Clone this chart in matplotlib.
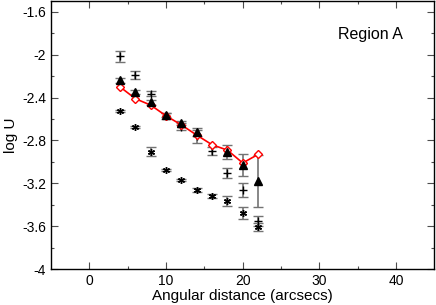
import numpy as np
import matplotlib
matplotlib.use('Agg')
import matplotlib.pyplot as plt

plt.rcParams['font.family'] = ['Liberation Sans', 'DejaVu Sans']

# triangles (filled) with error bars
x_tri = [4, 6, 8, 10, 12, 14, 18, 20, 22]
y_tri = [-2.24, -2.35, -2.445, -2.56, -2.64, -2.72, -2.91, -3.03, -3.18]
e_tri = [0.02, 0.02, 0.02, 0.02, 0.02, 0.04, 0.067, 0.10, 0.245]

# open red diamonds joined by line
x_dia = [4, 6, 8, 10, 12, 14, 16, 18, 20, 22]
y_dia = [-2.30, -2.41, -2.47, -2.57, -2.655, -2.75, -2.84, -2.89, -3.01, -2.93]

# plus markers with error bars
x_plus = [4, 6, 8, 10, 12, 14, 16, 18, 20, 22]
y_plus = [-2.016, -2.186, -2.363, -2.57, -2.67, -2.76, -2.90, -3.104, -3.265, -3.551]
e_plus = [0.05, 0.037, 0.025, 0.025, 0.03, 0.06, 0.04, 0.047, 0.065, 0.047]

# asterisks with error bars
x_ast = [4, 6, 8, 10, 12, 14, 16, 18, 20, 22]
y_ast = [-2.521, -2.673, -2.905, -3.073, -3.172, -3.262, -3.318, -3.367, -3.479, -3.607]
e_ast = [0.01, 0.01, 0.04, 0.01, 0.01, 0.02, 0.02, 0.045, 0.055, 0.04]

fig = plt.figure(figsize=(4.36, 3.05), dpi=100)
ax = fig.add_axes([0.117, 0.118, 0.8795, 0.878])

eb = dict(fmt='none', ecolor='0.45', elinewidth=1.2, capsize=3.5, capthick=1.0, zorder=2)
ax.errorbar(x_plus, y_plus, yerr=e_plus, **eb)
ax.errorbar(x_ast, y_ast, yerr=e_ast, **eb)
ax.errorbar(x_tri, y_tri, yerr=e_tri, **eb)

ax.plot(x_plus, y_plus, ls='none', marker='+', ms=6, mew=1.0, color='black', zorder=3)
ax.plot(x_ast, y_ast, ls='none', marker=(6, 2, 0), ms=5, mew=1.0, color='black', zorder=3)
ax.plot(x_dia, y_dia, color='red', lw=1.2, marker='D', ms=4.5, mfc='white',
        mec='red', mew=1.0, zorder=4)
ax.plot(x_tri, y_tri, ls='none', marker='^', ms=5.5, color='black', zorder=5)

ax.set_xlim(-5, 45)
ax.set_ylim(-4, -1.5)
ax.set_xticks([0, 10, 20, 30, 40])
ax.set_xticks(np.arange(5, 45, 10), minor=True)
ax.set_yticks([-4, -3.6, -3.2, -2.8, -2.4, -2, -1.6])
ax.set_yticklabels(['-4', '-3.6', '-3.2', '-2.8', '-2.4', '-2', '-1.6'])
ax.set_yticks(np.arange(-3.8, -1.5, 0.4), minor=True)
ax.tick_params(which='both', direction='in', top=True, right=True, labelsize=10,
               width=0.8, color='0.3')
ax.tick_params(which='major', length=5)
ax.tick_params(which='minor', length=2.5)
for s in ax.spines.values():
    s.set_linewidth(1.0)

ax.set_xlabel('Angular distance (arcsecs)', fontsize=11, labelpad=1)
ax.set_ylabel('log U', fontsize=11, labelpad=3)
ax.text(0.832, 0.874, 'Region A', transform=ax.transAxes, ha='center', va='center', fontsize=11.5)

fig.savefig('out.png', dpi=100)
